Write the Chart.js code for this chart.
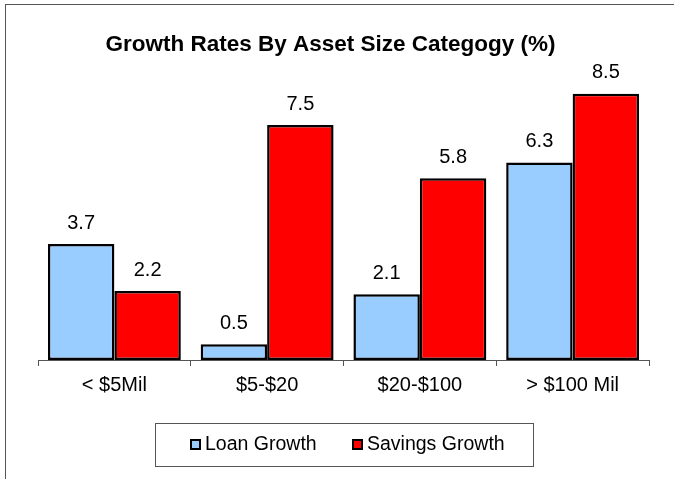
<!DOCTYPE html>
<html>
<head>
<meta charset="utf-8">
<script src="https://cdn.jsdelivr.net/npm/chart.js@4.4.0/dist/chart.umd.min.js"></script>
<style>
  html, body { margin: 0; padding: 0; background: #fff; }
  #wrap { width: 674px; height: 479px; position: relative; }
</style>
</head>
<body>
<div id="wrap"><canvas id="chart-bar-1"></canvas></div>
<script>
'use strict';
var categories = ['< $5Mil', '$5-$20', '$20-$100', '> $100 Mil'];
var loanGrowth = [3.7, 0.5, 2.1, 6.3];
var savingsGrowth = [2.2, 7.5, 5.8, 8.5];
var seriesNames = ['Loan Growth', 'Savings Growth'];
var titleText = 'Growth Rates By Asset Size Categogy (%)';

var FONT = '"Liberation Sans", Arial, sans-serif';

// frame, title, value labels and boxed legend
var decorations = {
    id: 'decorations',
    beforeDraw: function(chart) {
        var c = chart.ctx;
        c.save();
        c.fillStyle = '#fff';
        c.fillRect(0, 0, chart.width, chart.height);
        c.strokeStyle = '#555';
        c.lineWidth = 1;
        c.strokeRect(5.5, 4.5, chart.width + 10, chart.height + 10);
        c.restore();
    },
    afterDatasetsDraw: function(chart) {
        var c = chart.ctx;
        c.save();
        // title
        c.fillStyle = '#000';
        c.font = 'bold 22.5px ' + FONT;
        c.textAlign = 'center';
        c.textBaseline = 'middle';
        c.fillText(titleText, 330.5, 45);
        // value labels
        c.font = '20px ' + FONT;
        chart.data.datasets.forEach(function(ds, i) {
            chart.getDatasetMeta(i).data.forEach(function(bar, j) {
                c.fillText(ds.data[j].toFixed(1), bar.x, bar.y - 21);
            });
        });
        // legend box
        c.strokeStyle = '#555';
        c.lineWidth = 1;
        c.strokeRect(155.5, 423.5, 378, 43);
        c.font = '19.5px ' + FONT;
        c.textAlign = 'left';
        var xs = [191, 353];
        chart.data.datasets.forEach(function(ds, i) {
            c.fillStyle = ds.backgroundColor;
            c.fillRect(xs[i], 440, 9, 9);
            c.strokeStyle = '#000';
            c.lineWidth = 2;
            c.strokeRect(xs[i], 440, 9, 9);
            c.fillStyle = '#000';
            c.fillText(ds.label, xs[i] + 14, 445);
        });
        c.restore();
    }
};

var bar = document.getElementById('chart-bar-1').getContext('2d');
var myBarChart = new Chart(bar, {
    type: 'bar',
    data: {
        labels: categories,
        datasets: [{
            label: seriesNames[0],
            data: loanGrowth,
            backgroundColor: '#99ccff',
            borderColor: '#000',
            borderWidth: 2.5,
            borderSkipped: false
        }, {
            label: seriesNames[1],
            data: savingsGrowth,
            backgroundColor: '#ff0000',
            borderColor: '#000',
            borderWidth: 2.5,
            borderSkipped: false
        }]
    },
    options: {
        responsive: true,
        maintainAspectRatio: false,
        animation: false,
        categoryPercentage: 0.87,
        barPercentage: 1.0,
        layout: { padding: { left: 38, right: 25, top: 78, bottom: 75 } },
        plugins: {
            legend: { display: false },
            title: { display: false },
            tooltip: { enabled: false }
        },
        scales: {
            y: { display: false, min: 0, max: 9 },
            x: {
                grid: {
                    offset: true,
                    drawOnChartArea: false,
                    tickLength: 6,
                    color: '#555'
                },
                border: { display: true, color: '#555', width: 1 },
                ticks: { color: '#000', font: { family: FONT, size: 20 }, padding: 7 }
            }
        }
    },
    plugins: [decorations]
});
</script>
</body>
</html>
